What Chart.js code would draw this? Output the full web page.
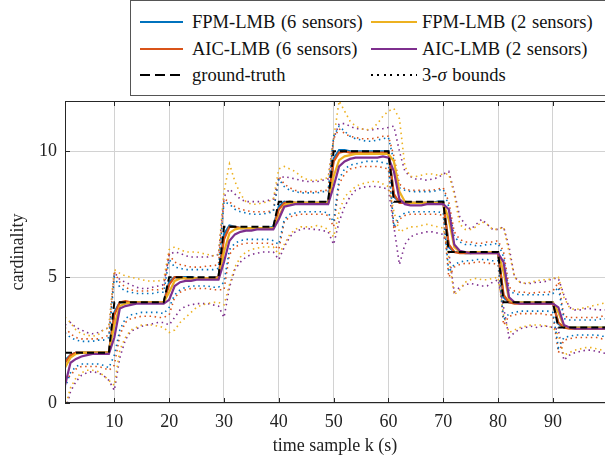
<!DOCTYPE html>
<html>
<head>
<meta charset="utf-8">
<script src="https://cdn.jsdelivr.net/npm/chart.js@4.4.1/dist/chart.umd.min.js"></script>
<style>
  html, body { margin: 0; padding: 0; background: #fff; }
  #wrap { position: relative; width: 605px; height: 462px; overflow: hidden; }
  #chart { position: absolute; left: 0; top: 0; }
  #legend {
    position: absolute; left: 130px; top: 0; width: 490px; height: 96px;
    border: 1px solid #555; box-sizing: border-box; background: #fff;
    font-family: "Liberation Serif", "Times New Roman", serif; font-size: 18.5px; word-spacing: 1px; color: #111;
  }
  .txt { position: absolute; height: 22px; line-height: 22px; white-space: nowrap; }
  .smp { position: absolute; height: 2px; }
</style>
</head>
<body>
<div id="wrap">
  <canvas id="chart" width="605" height="462"></canvas>
  <div id="legend"></div>
</div>
<script>
// --- dados: tempo k e cardinalidade estimada ---
const kSamples = [1,2,3,4,5,6,7,8,9,10,11,12,13,14,15,16,17,18,19,20,21,22,23,24,25,26,27,28,29,30,
  31,32,33,34,35,36,37,38,39,40,41,42,43,44,45,46,47,48,49,50,51,52,53,54,55,56,57,58,59,60,
  61,62,63,64,65,66,67,68,69,70,71,72,73,74,75,76,77,78,79,80,81,82,83,84,85,86,87,88,89,90,
  91,92,93,94,95,96,97,98,99,100];
const xTicks = [10, 20, 30, 40, 50, 60, 70, 80, 90];
const yTicks = [0, 5, 10];

const groundTruth = [2,2,2,2,2,2,2,2,2, 4,4,4,4,4,4,4,4,4,4, 5,5,5,5,5,5,5,5,5,5, 7,7,7,7,7,7,7,7,7,7,
  8,8,8,8,8,8,8,8,8,8, 10,10,10,10,10,10,10,10,10,10,10, 8,8,8,8,8,8,8,8,8,8, 6,6,6,6,6,6,6,6,6,6,
  4,4,4,4,4,4,4,4,4,4, 3,3,3,3,3,3,3,3,3,3];

const fpm6 = [1.7,1.9,2.0,2.0,2.0,2.0,2.0,2.0,2.0,
  3.6,4.0,4.0,4.0,4.0,4.0,4.0,4.0,4.0,4.0,
  4.8,5.0,5.0,5.0,5.0,4.95,4.95,4.95,4.95,5.0,
  6.7,7.05,7.0,6.95,6.95,6.95,6.95,6.95,6.95,7.0,
  7.8,8.0,7.95,7.95,7.95,7.95,7.95,7.95,7.95,8.0,
  9.7,10.05,10.05,10.0,10.0,10.0,10.0,10.0,10.0,10.0,10.0,
  8.2,8.0,7.95,7.95,7.95,7.95,7.95,7.95,8.0,8.0,
  6.2,6.0,6.0,5.95,5.95,6.0,6.0,6.0,6.0,6.0,
  4.2,4.0,4.0,4.0,4.0,4.0,4.0,4.0,4.0,4.0,
  3.15,3.0,3.0,3.0,3.0,3.0,3.0,3.0,3.0,3.0];
const aic6 = [1.6,1.9,2.0,2.0,2.0,2.0,2.0,2.0,2.0,
  3.5,4.0,4.05,4.0,4.0,4.0,4.0,4.0,4.0,4.0,
  4.7,5.0,5.0,4.95,4.95,4.95,4.95,4.95,4.95,5.0,
  6.5,7.0,7.0,6.95,6.95,6.95,6.95,6.95,6.95,6.95,
  7.7,7.95,8.0,7.95,7.95,7.95,7.95,7.95,7.95,7.95,
  9.6,9.95,10.0,9.95,9.95,9.95,9.95,9.95,9.95,9.95,9.95,
  8.3,7.95,7.95,7.95,7.95,7.95,7.95,7.95,7.95,7.95,
  6.3,6.0,5.95,5.95,5.95,5.95,5.95,5.95,5.95,5.95,
  4.3,4.0,3.95,3.95,3.95,3.95,3.95,3.95,3.95,3.95,
  3.2,3.0,2.95,2.95,2.95,2.95,2.95,2.95,2.95,2.95];
const fpm2 = [1.4,1.8,1.95,2.0,2.0,2.0,2.0,2.0,2.0,
  3.1,3.85,3.95,4.0,4.0,4.0,4.0,4.0,4.0,4.0,
  4.4,4.85,4.95,4.95,4.95,4.95,4.95,4.95,4.95,4.95,
  6.0,6.75,6.9,6.95,6.95,6.95,6.95,6.95,6.95,6.95,
  7.4,7.85,7.95,7.95,7.95,7.95,7.95,7.95,7.95,7.95,
  9.0,9.65,9.8,9.85,9.9,9.9,9.9,9.9,9.9,9.9,9.9,
  9.6,8.4,8.0,7.95,7.95,7.95,7.95,7.95,7.95,7.95,
  7.3,6.2,6.0,6.0,6.0,6.0,6.0,6.0,6.0,6.0,
  5.2,4.1,4.0,4.0,4.0,4.0,4.0,4.0,4.0,4.0,
  3.6,3.05,3.0,3.0,3.0,3.0,3.0,3.0,3.0,3.0];
const aic2 = [0.7,1.6,1.75,1.85,1.9,1.95,1.95,1.95,1.95,
  2.6,3.75,3.85,3.9,3.95,3.95,3.95,3.95,3.95,3.95,
  4.1,4.65,4.8,4.85,4.85,4.9,4.9,4.9,4.9,4.9,
  5.6,6.45,6.7,6.8,6.85,6.85,6.9,6.9,6.9,6.9,
  7.3,7.8,7.85,7.9,7.9,7.9,7.9,7.9,7.9,7.9,
  8.6,9.4,9.6,9.7,9.75,9.75,9.75,9.75,9.75,9.8,9.75,
  9.2,8.1,7.9,7.85,7.85,7.85,7.9,7.9,7.9,7.9,
  7.7,6.3,6.05,6.0,5.95,5.95,5.95,5.95,5.95,5.95,
  5.6,4.2,4.0,3.95,3.95,3.95,3.95,3.95,3.95,3.95,
  3.8,3.1,3.0,2.95,2.95,2.95,2.95,2.95,2.95,2.95];

// limites 3-sigma (superior / inferior)
const fpm6Up = [2.8,2.6,2.5,2.45,2.45,2.45,2.5,2.5,2.6,
  5.0,4.6,4.45,4.4,4.35,4.35,4.35,4.35,4.4,4.4,
  5.7,5.4,5.35,5.3,5.3,5.3,5.3,5.3,5.3,5.35,
  8.0,7.9,7.7,7.6,7.55,7.5,7.5,7.5,7.55,7.6,
  8.9,8.6,8.45,8.4,8.35,8.35,8.35,8.35,8.4,8.4,
  10.6,11.0,10.8,10.6,10.5,10.45,10.4,10.4,10.45,10.5,10.55,
  9.6,8.55,8.45,8.4,8.4,8.4,8.4,8.4,8.45,8.5,
  7.8,6.6,6.4,6.3,6.3,6.25,6.25,6.3,6.3,6.35,
  5.8,4.45,4.35,4.3,4.3,4.3,4.3,4.3,4.3,4.35,
  4.6,3.35,3.3,3.3,3.3,3.3,3.3,3.3,3.35,3.35];
const fpm6Lo = [0.6,1.2,1.45,1.55,1.55,1.55,1.55,1.5,1.4,
  1.9,2.9,3.35,3.5,3.55,3.6,3.6,3.6,3.6,3.55,
  3.8,4.3,4.5,4.6,4.65,4.65,4.65,4.65,4.6,4.6,
  4.8,6.1,6.35,6.45,6.5,6.5,6.5,6.5,6.5,6.45,
  6.3,7.3,7.5,7.55,7.6,7.6,7.6,7.6,7.6,7.55,
  7.2,8.9,9.3,9.45,9.5,9.55,9.6,9.6,9.6,9.55,9.5,
  7.0,7.4,7.55,7.6,7.6,7.6,7.6,7.6,7.6,7.55,
  5.2,5.5,5.6,5.65,5.65,5.7,5.7,5.7,5.65,5.65,
  3.3,3.55,3.6,3.65,3.65,3.65,3.65,3.65,3.65,3.6,
  2.2,2.6,2.65,2.7,2.7,2.7,2.7,2.7,2.65,2.65];
const aic6Up = [3.0,2.75,2.6,2.55,2.55,2.55,2.55,2.6,2.7,
  5.2,4.8,4.6,4.5,4.45,4.45,4.45,4.5,4.5,4.55,
  5.9,5.6,5.5,5.45,5.4,5.4,5.4,5.45,5.45,5.5,
  8.1,8.0,7.8,7.7,7.65,7.6,7.6,7.6,7.6,7.65,
  9.0,8.7,8.55,8.45,8.4,8.4,8.4,8.4,8.45,8.45,
  10.5,10.9,10.7,10.6,10.55,10.5,10.5,10.5,10.55,10.6,10.6,
  9.8,8.7,8.5,8.45,8.45,8.45,8.45,8.45,8.5,8.55,
  8.0,6.8,6.5,6.4,6.4,6.35,6.35,6.4,6.4,6.45,
  6.0,4.6,4.45,4.4,4.4,4.35,4.4,4.4,4.4,4.45,
  4.8,3.45,3.4,3.4,3.4,3.4,3.4,3.4,3.45,3.45];
const aic6Lo = [0.9,1.1,1.35,1.45,1.45,1.45,1.45,1.4,1.3,
  1.5,2.7,3.2,3.35,3.4,3.45,3.45,3.45,3.4,3.4,
  3.5,4.2,4.4,4.5,4.55,4.55,4.55,4.55,4.5,4.5,
  4.5,5.9,6.2,6.3,6.35,6.35,6.35,6.35,6.35,6.3,
  6.1,7.2,7.4,7.45,7.5,7.5,7.5,7.5,7.5,7.45,
  7.0,8.7,9.1,9.3,9.35,9.4,9.4,9.4,9.4,9.35,9.3,
  6.9,7.3,7.45,7.5,7.5,7.5,7.5,7.5,7.5,7.45,
  5.0,5.4,5.5,5.55,5.55,5.6,5.6,5.55,5.55,5.5,
  3.1,3.45,3.5,3.55,3.55,3.55,3.55,3.55,3.5,3.5,
  2.0,2.5,2.55,2.6,2.6,2.6,2.6,2.6,2.55,2.55];
const fpm2Up = [3.4,3.2,2.9,2.75,2.7,2.65,2.7,2.9,3.0,
  5.3,5.15,5.05,5.0,4.95,4.9,4.85,4.85,4.85,4.9,
  6.1,6.2,6.1,6.0,6.0,6.0,5.95,5.9,5.85,5.9,
  8.4,9.5,8.8,8.3,8.0,7.9,7.9,7.95,8.0,8.1,
  9.3,9.4,9.3,9.2,9.0,8.9,8.85,8.85,8.9,8.95,
  10.5,12.0,11.6,11.2,11.0,10.9,10.85,10.9,11.1,11.4,11.6,
  11.7,11.3,9.4,9.0,9.0,9.05,9.1,9.1,9.05,9.1,
  9.1,8.3,7.1,6.9,6.9,7.0,7.2,7.1,6.9,6.9,
  7.0,6.0,5.0,4.8,4.75,4.8,4.85,4.9,4.9,4.95,
  5.0,4.2,3.8,3.7,3.75,3.8,3.85,3.9,3.95,4.0];
const fpm2Lo = [-0.2,0.6,1.0,1.2,1.3,1.3,1.25,1.1,0.9,
  0.7,2.1,2.6,2.9,3.0,3.1,3.1,3.1,3.05,3.0,
  2.8,2.9,3.2,3.4,3.6,3.8,3.9,3.95,4.0,4.0,
  3.9,4.7,5.4,5.8,6.0,6.1,6.15,6.2,6.2,6.2,
  5.9,6.3,6.7,6.9,7.0,7.0,7.0,7.05,7.0,6.9,
  6.6,7.6,8.2,8.4,8.6,8.7,8.75,8.8,8.8,8.7,8.6,
  7.6,6.8,6.9,7.0,7.0,7.05,7.1,7.05,7.0,6.95,
  5.8,4.3,4.5,4.8,4.9,4.95,4.9,4.9,4.95,5.0,
  3.5,2.8,2.9,3.0,3.05,3.1,3.1,3.1,3.05,3.0,
  2.7,1.9,2.0,2.1,2.15,2.2,2.2,2.15,2.1,2.1];
const aic2Up = [3.1,3.2,3.0,2.9,2.8,2.75,2.8,2.9,3.0,
  5.2,4.9,4.8,4.7,4.6,4.55,4.55,4.6,4.65,4.7,
  5.9,6.0,5.95,5.85,5.8,5.8,5.8,5.8,5.85,5.9,
  8.2,8.5,8.3,8.1,8.0,8.0,8.0,8.0,8.05,8.1,
  8.9,9.0,8.95,8.9,8.85,8.8,8.8,8.8,8.85,8.9,
  10.5,11.1,11.1,11.0,10.9,10.9,10.85,10.85,10.9,10.9,10.95,
  11.0,10.0,9.2,9.0,8.9,8.9,8.85,8.9,8.95,9.1,
  9.2,8.4,7.4,7.1,6.9,7.1,7.3,7.1,6.9,6.9,
  7.0,6.2,5.0,4.8,4.75,4.75,4.8,4.8,4.85,4.95,
  4.95,4.3,3.8,3.7,3.7,3.75,3.75,3.7,3.7,3.7];
const aic2Lo = [-0.4,0.45,0.85,1.1,1.2,1.25,1.2,1.1,0.9,
  0.5,1.8,2.5,2.85,2.95,3.05,3.1,3.15,3.2,3.2,
  3.1,3.4,3.7,3.85,3.9,3.95,3.95,3.95,3.9,3.85,
  3.4,4.6,5.3,5.6,5.8,5.9,5.95,6.0,6.0,6.0,
  5.7,6.2,6.6,6.8,6.9,6.95,6.9,6.9,6.85,6.8,
  6.3,7.2,7.8,8.2,8.45,8.55,8.6,8.6,8.6,8.55,8.5,
  7.0,5.5,6.3,6.6,6.7,6.75,6.8,6.8,6.75,6.7,
  6.0,4.4,4.6,4.7,4.75,4.7,4.65,4.65,4.8,4.9,
  3.8,2.6,2.8,2.95,3.0,3.05,3.0,3.05,3.05,3.0,
  2.9,1.7,1.9,2.0,2.05,2.1,2.1,2.05,2.0,1.95];

const Cores = { fpm6: '#0072BD', aic6: '#D95319', fpm2: '#EDB120', aic2: '#7E2F8E', truth: '#000000' };
const FONTE = '"Liberation Serif", "Times New Roman", serif';

const pontos = (arr) => arr.map((v, i) => ({ x: kSamples[i], y: v }));

const linhaMedia = (label, arr, cor, ordem) => ({
  label, data: pontos(arr), borderColor: cor, borderWidth: 2.2, pointRadius: 0, tension: 0, order: ordem
});
const linhaLimite = (arr, cor) => ({
  label: '3-sigma', data: pontos(arr), borderColor: cor, borderWidth: 1.6, borderDash: [1.5, 3.6],
  pointRadius: 0, tension: 0, order: 10
});

// moldura do gráfico e marcas internas dos eixos
const molduraPlugin = {
  id: 'moldura',
  afterDraw(chart) {
    const { ctx, chartArea: a, scales: { x, y } } = chart;
    ctx.save();
    ctx.strokeStyle = '#262626';
    ctx.lineWidth = 1;
    ctx.strokeRect(a.left + 0.5, a.top + 0.5, a.right - a.left, a.bottom - a.top - 1);
    ctx.beginPath();
    xTicks.forEach(v => {
      const px = Math.round(x.getPixelForValue(v)) + 0.5;
      ctx.moveTo(px, a.bottom); ctx.lineTo(px, a.bottom - 5);
      ctx.moveTo(px, a.top); ctx.lineTo(px, a.top + 5);
    });
    yTicks.forEach(v => {
      const py = Math.round(y.getPixelForValue(v)) + 0.5;
      ctx.moveTo(a.left, py); ctx.lineTo(a.left + 5, py);
    });
    ctx.stroke();
    ctx.restore();
  }
};

new Chart(document.getElementById('chart').getContext('2d'), {
  type: 'line',
  data: {
    datasets: [
      { label: 'ground-truth', data: pontos(groundTruth), borderColor: Cores.truth, borderWidth: 2,
        borderDash: [7, 4], pointRadius: 0, tension: 0, order: 0 },
      linhaMedia('AIC-LMB (2 sensors)', aic2, Cores.aic2, 1),
      linhaMedia('FPM-LMB (2 sensors)', fpm2, Cores.fpm2, 2),
      linhaMedia('AIC-LMB (6 sensors)', aic6, Cores.aic6, 3),
      linhaMedia('FPM-LMB (6 sensors)', fpm6, Cores.fpm6, 4),
      linhaLimite(fpm6Up, Cores.fpm6), linhaLimite(fpm6Lo, Cores.fpm6),
      linhaLimite(aic6Up, Cores.aic6), linhaLimite(aic6Lo, Cores.aic6),
      linhaLimite(fpm2Up, Cores.fpm2), linhaLimite(fpm2Lo, Cores.fpm2),
      linhaLimite(aic2Up, Cores.aic2), linhaLimite(aic2Lo, Cores.aic2)
    ]
  },
  options: {
    responsive: false, animation: false, devicePixelRatio: 1,
    layout: { padding: { top: 101, left: 0, right: 0, bottom: 0 } },
    plugins: { legend: { display: false }, tooltip: { enabled: false } },
    scales: {
      x: {
        type: 'linear', min: 1, max: 99.5,
        afterBuildTicks: (s) => { s.ticks = xTicks.map(v => ({ value: v })); },
        afterFit: (s) => { s.height = 59; },
        grid: { color: '#d2d2d2', drawTicks: false },
        border: { display: false },
        ticks: { color: '#222', font: { family: FONTE, size: 18 }, padding: 8, maxRotation: 0 },
        title: { display: true, text: 'time sample k (s)', color: '#222', font: { family: FONTE, size: 18 }, padding: { top: 0, bottom: 5 } }
      },
      y: {
        min: 0, max: 12,
        afterBuildTicks: (s) => { s.ticks = yTicks.map(v => ({ value: v })); },
        afterFit: (s) => { s.width = 65; },
        grid: { color: '#d2d2d2', drawTicks: false },
        border: { display: false },
        ticks: { color: '#222', font: { family: FONTE, size: 18 }, padding: 8 },
        title: { display: true, text: 'cardinality', color: '#222', font: { family: FONTE, size: 18 }, padding: { top: 7, bottom: 0 } }
      }
    }
  },
  plugins: [molduraPlugin]
});

// legenda em HTML (duas colunas, três linhas)
const itensLegenda = [
  { texto: 'FPM-LMB (6 sensors)', col: 0, lin: 0, estilo: `background:${Cores.fpm6}` },
  { texto: 'FPM-LMB (2 sensors)', col: 1, lin: 0, estilo: `background:${Cores.fpm2}` },
  { texto: 'AIC-LMB (6 sensors)', col: 0, lin: 1, estilo: `background:${Cores.aic6}` },
  { texto: 'AIC-LMB (2 sensors)', col: 1, lin: 1, estilo: `background:${Cores.aic2}` },
  { texto: 'ground-truth', col: 0, lin: 2, estilo: 'background:repeating-linear-gradient(90deg,#000 0 10px,transparent 10px 15px)' },
  { texto: '3-<i>σ</i> bounds', col: 1, lin: 2, estilo: 'background:repeating-linear-gradient(90deg,#000 0 2px,transparent 2px 6.5px)' }
];
const legenda = document.getElementById('legend');
const centrosLinha = [21, 48, 74];
const colunas = [{ amostra: 9, largura: 43, texto: 61 }, { amostra: 240, largura: 46, texto: 291 }];
itensLegenda.forEach(it => {
  const c = colunas[it.col];
  const cy = centrosLinha[it.lin];
  legenda.insertAdjacentHTML('beforeend',
    `<div class="smp" style="left:${c.amostra}px;top:${cy - 1}px;width:${c.largura}px;${it.estilo}"></div>` +
    `<div class="txt" style="left:${c.texto}px;top:${cy - 11}px">${it.texto}</div>`);
});
</script>
</body>
</html>
